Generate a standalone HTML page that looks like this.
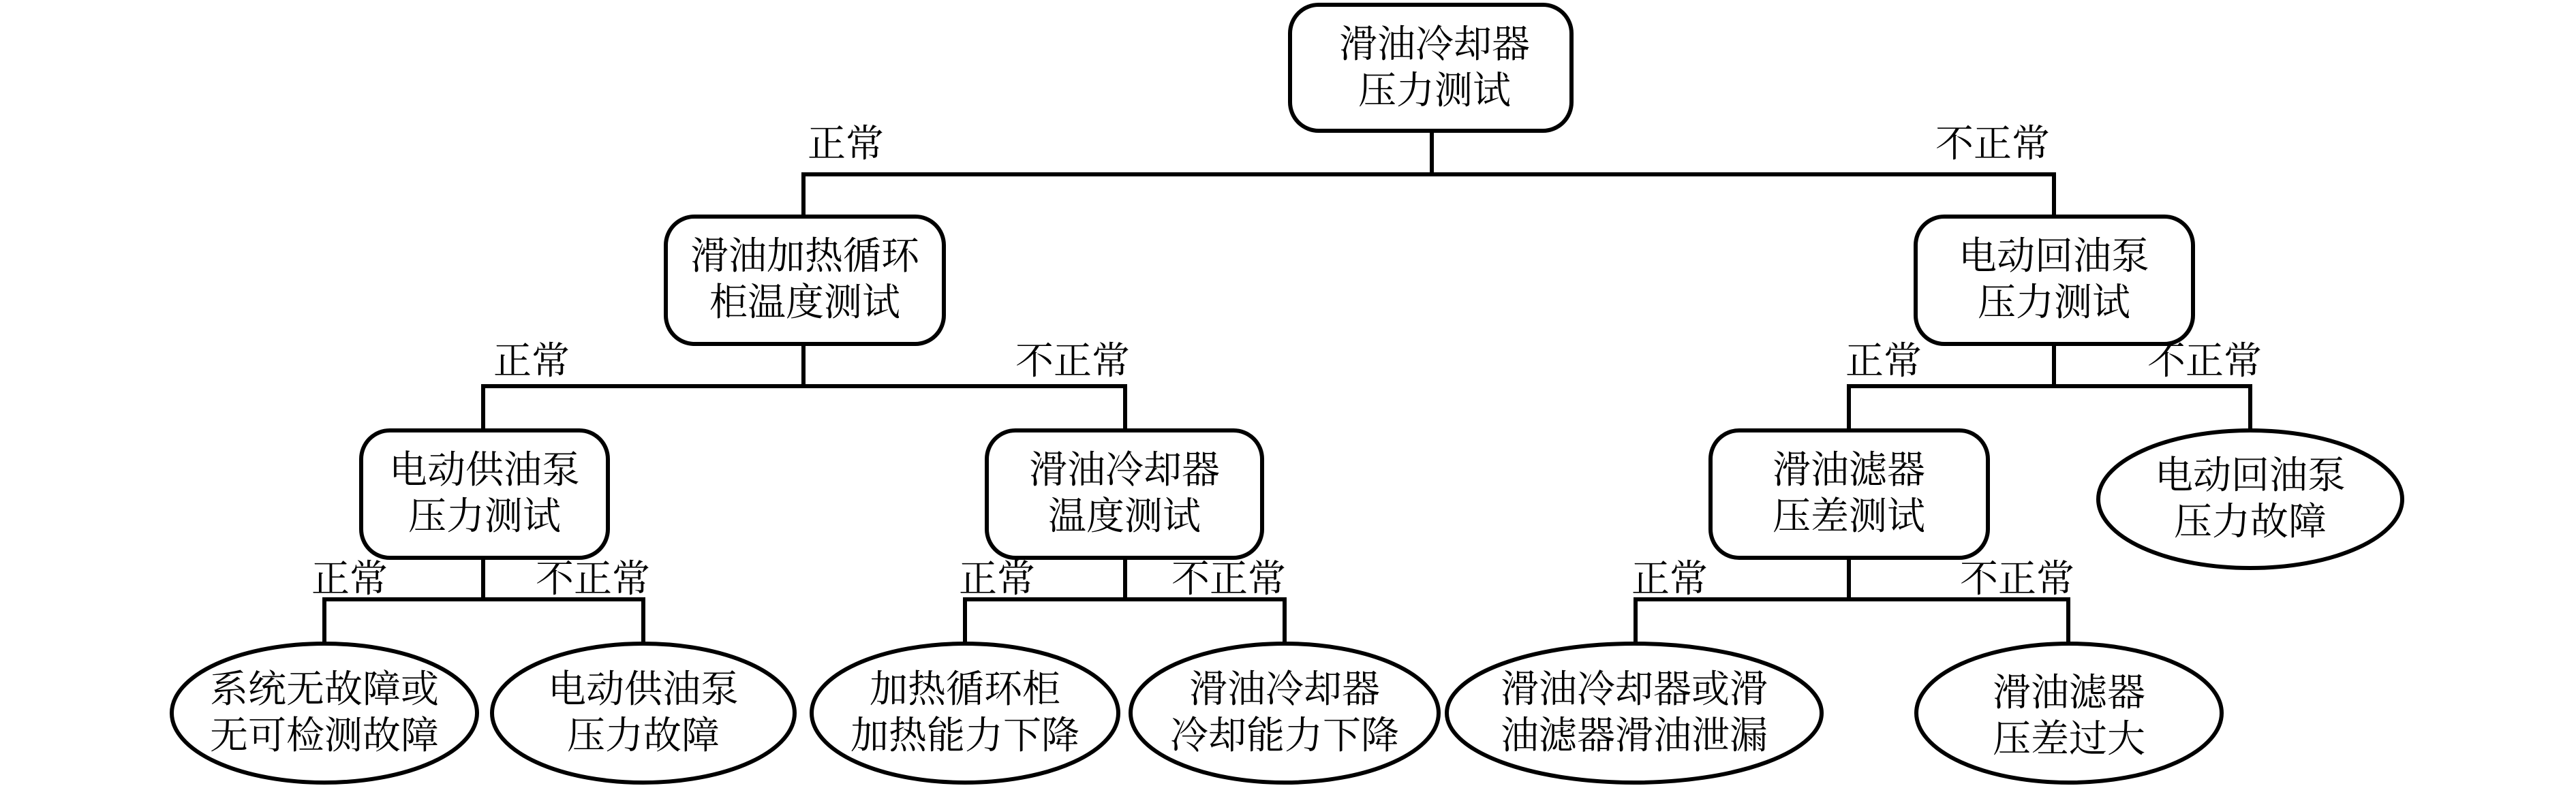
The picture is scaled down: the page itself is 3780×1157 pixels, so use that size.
<!DOCTYPE html>
<html><head><meta charset="utf-8"><style>
html,body{margin:0;padding:0;background:#fff;}
svg{display:block}
text{font-family:"Liberation Serif","Noto Serif CJK SC",serif;font-size:56px;fill:#000;text-anchor:middle;dominant-baseline:central;}
</style></head><body>
<svg width="3780" height="1157" viewBox="0 0 3780 1157" xmlns="http://www.w3.org/2000/svg">
<g stroke="#000" stroke-width="6" fill="none">
<!-- boxes -->
<rect x="1893" y="7" width="413" height="185" rx="42"/>
<rect x="977" y="318" width="408" height="187" rx="42"/>
<rect x="2811" y="318" width="407" height="187" rx="42"/>
<rect x="530" y="632" width="362" height="187" rx="42"/>
<rect x="1448" y="632" width="404" height="187" rx="42"/>
<rect x="2510" y="632" width="407" height="187" rx="42"/>
<!-- ellipses -->
<ellipse cx="3302" cy="733" rx="223" ry="101"/>
<ellipse cx="476" cy="1047" rx="224" ry="102"/>
<ellipse cx="944" cy="1047" rx="222" ry="102"/>
<ellipse cx="1416" cy="1047" rx="225" ry="102"/>
<ellipse cx="1885" cy="1047" rx="226" ry="102"/>
<ellipse cx="2398" cy="1047" rx="275" ry="102"/>
<ellipse cx="3036" cy="1047" rx="224" ry="102"/>
<!-- connectors -->
<path d="M2101 192V256M1179 318V256H3014V318"/>
<path d="M1179 505V567M709 632V567H1651V632"/>
<path d="M3014 505V567M2713 632V567H3302V632"/>
<path d="M709 819V880M476 945V880H944V945"/>
<path d="M1651 819V880M1416 945V880H1885V945"/>
<path d="M2713 819V880M2400 945V880H3035V945"/>
</g>
<g>
<text x="2105" y="66">滑油冷却器</text><text x="2105" y="134">压力测试</text>
<text x="1181" y="377">滑油加热循环</text><text x="1181" y="445">柜温度测试</text>
<text x="3014" y="377">电动回油泵</text><text x="3014" y="445">压力测试</text>
<text x="711" y="691">电动供油泵</text><text x="711" y="759">压力测试</text>
<text x="1650" y="691">滑油冷却器</text><text x="1650" y="759">温度测试</text>
<text x="2713" y="691">滑油滤器</text><text x="2713" y="759">压差测试</text>
<text x="3302" y="699">电动回油泵</text><text x="3302" y="767">压力故障</text>
<text x="476" y="1013">系统无故障或</text><text x="476" y="1081">无可检测故障</text>
<text x="944" y="1013">电动供油泵</text><text x="944" y="1081">压力故障</text>
<text x="1416" y="1013">加热循环柜</text><text x="1416" y="1081">加热能力下降</text>
<text x="1885" y="1013">滑油冷却器</text><text x="1885" y="1081">冷却能力下降</text>
<text x="2398" y="1013">滑油冷却器或滑</text><text x="2398" y="1081">油滤器滑油泄漏</text>
<text x="3036" y="1018">滑油滤器</text><text x="3036" y="1086">压差过大</text>
<!-- labels -->
<text x="1241" y="212">正常</text>
<text x="2924" y="212">不正常</text>
<text x="780" y="531">正常</text>
<text x="1574" y="531">不正常</text>
<text x="2764" y="531">正常</text>
<text x="3235" y="531">不正常</text>
<text x="513" y="851">正常</text>
<text x="870" y="851">不正常</text>
<text x="1463" y="851">正常</text>
<text x="1803" y="851">不正常</text>
<text x="2450" y="851">正常</text>
<text x="2960" y="851">不正常</text>
</g>
</svg>
</body></html>
